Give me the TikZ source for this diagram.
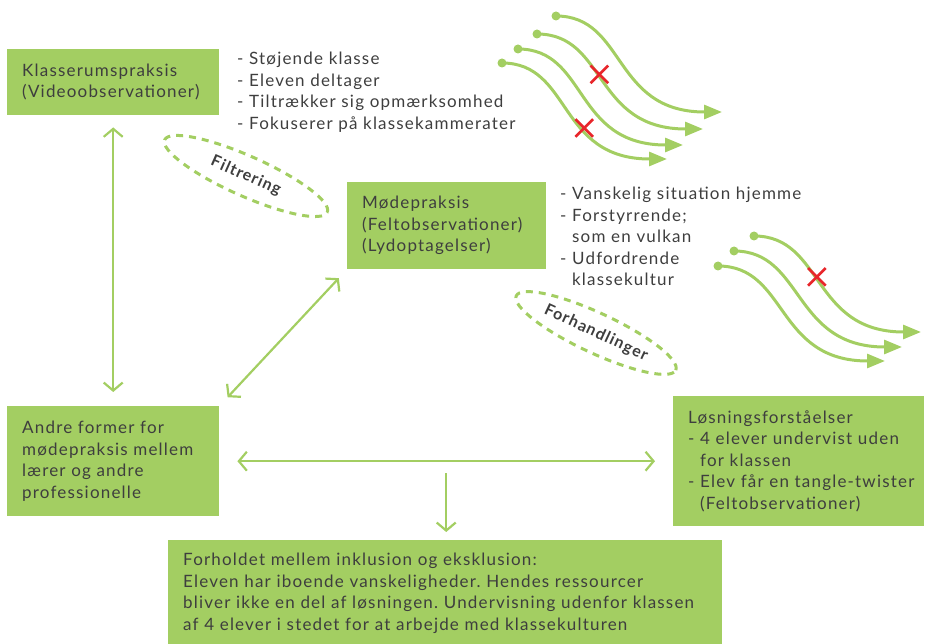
\documentclass[tikz,border=0pt]{standalone}
\usepackage{fontspec}
\setmainfont{Lato}[LetterSpace=7]
\usetikzlibrary{arrows.meta,shapes.geometric,shapes.misc}
\definecolor{lgreen}{HTML}{A3CE62}
\definecolor{txt}{HTML}{3E3E3E}
\definecolor{xred}{HTML}{E8262B}
\frenchspacing
\begin{document}
\begin{tikzpicture}[x=1pt,y=-1pt,
  font=\fontsize{17}{21.5}\selectfont, text=txt,
  box/.style={fill=lgreen, draw=none, inner xsep=15pt, inner ysep=0pt, align=left, anchor=north west},
  list/.style={anchor=base west, inner sep=0pt, align=left, text width=320pt},
  dbl/.style={draw=lgreen, line width=2.2pt, {Straight Barb[length=8pt,width=19pt]}-{Straight Barb[length=8pt,width=19pt]}},
  sgl/.style={draw=lgreen, line width=2.2pt, -{Straight Barb[length=8pt,width=19pt]}},
  ell/.style={ellipse, draw=lgreen, line width=3pt, dash pattern=on 7pt off 6pt, inner sep=0pt, font=\fontsize{16}{18}\bfseries},
  wave/.style={draw=lgreen, line width=3pt, -{Triangle[length=18pt,width=14pt]}},
  dot/.style={circle, fill=lgreen, inner sep=0pt, minimum size=9pt},
  xmark/.style={cross out, draw=xred, line width=2.6pt, minimum size=15pt, inner sep=0pt}
]
\useasboundingbox (0,0) rectangle (931,644);

% boxes
\node[box, text width=182pt, minimum height=66pt] (K) at (7,49) {\mbox{Klasserumspraksis}\\\mbox{(Videoobservationer)}};
\node[box, text width=169pt, minimum height=87pt] (M) at (347,182) {Mødepraksis\\\mbox{(Feltobservationer)}\\(Lydoptagelser)};
\node[box, text width=182pt, minimum height=110pt] (A) at (7,406) {Andre former for\\\mbox{mødepraksis mellem}\\lærer og andre\\professionelle};
\node[box, text width=221pt, minimum height=130pt] (L) at (673,396) {Løsningsforståelser\\\mbox{- 4 elever undervist uden}\\\phantom{- }for klassen\\\mbox{- Elev får en tangle-twister}\\\phantom{- }(Feltobservationer)};
\node[box, text width=524pt, minimum height=106pt] (B) at (168,540) {Forholdet mellem inklusion og eksklusion:\\\mbox{Eleven har iboende vanskeligheder. Hendes ressourcer}\\\mbox{bliver ikke en del af løsningen. Undervisning udenfor klassen}\\\mbox{af 4 elever i stedet for at arbejde med klassekulturen}};

% lists
\node[list] (l1) at (237,65) {- Støjende klasse\\- Eleven deltager\\- Tiltrækker sig opmærksomhed\\- Fokuserer på klassekammerater};
\node[list] (l2) at (560,200) {- Vanskelig situation hjemme\\- Forstyrrende;\\\phantom{- }som en vulkan\\- Udfordrende\\\phantom{- }klassekultur};

% ellipses
\node[ell, rotate=-24, minimum width=178pt, minimum height=40pt] (filt) at (246,176) {Filtrering};
\node[ell, rotate=-25, minimum width=176pt, minimum height=40pt] (forh) at (596,333) {Forhandlinger};

% connectors
\draw[dbl, shorten <=12pt, shorten >=14pt] (K.south) -- (A.north);
\draw[dbl, shorten <=12pt, shorten >=12pt] (A.north east) -- (M.south west);
\draw[dbl, shorten <=18pt, shorten >=18pt] (A.east) -- coordinate (hmid) (L.west);
\draw[sgl, shorten <=12pt, shorten >=8pt] (hmid) -- (hmid |- B.north);

% wavy arrows, group 1
\foreach \sx/\sy/\ex/\ey [count=\i] in {556/16/722/112, 537/34/703/129, 518/49/683/145, 502/63/667/159}{
  \node[dot] (ws\i) at (\sx,\sy) {};
  \coordinate (we\i) at (\ex,\ey);
}
\draw[wave] (ws1.center) .. controls +(70,0) and +(-110,0) .. (we1);
\draw[wave] (ws2.center) .. controls +(70,0) and +(-110,0) .. node[xmark, pos=0.45] (x1) {} (we2);
\draw[wave] (ws3.center) .. controls +(70,0) and +(-110,0) .. (we3);
\draw[wave] (ws4.center) .. controls +(70,0) and +(-110,0) .. node[xmark, pos=0.62] (x2) {} (we4);

% wavy arrows, group 2
\foreach \sx/\sy/\ex/\ey [count=\i] in {754/236/921/332, 734/251/902/347, 718/266/885/361}{
  \node[dot] (vs\i) at (\sx,\sy) {};
  \coordinate (ve\i) at (\ex,\ey);
}
\draw[wave] (vs1.center) .. controls +(70,0) and +(-110,0) .. node[xmark, pos=0.45] (x3) {} (ve1);
\draw[wave] (vs2.center) .. controls +(70,0) and +(-110,0) .. (ve2);
\draw[wave] (vs3.center) .. controls +(70,0) and +(-110,0) .. (ve3);
\end{tikzpicture}
\end{document}
